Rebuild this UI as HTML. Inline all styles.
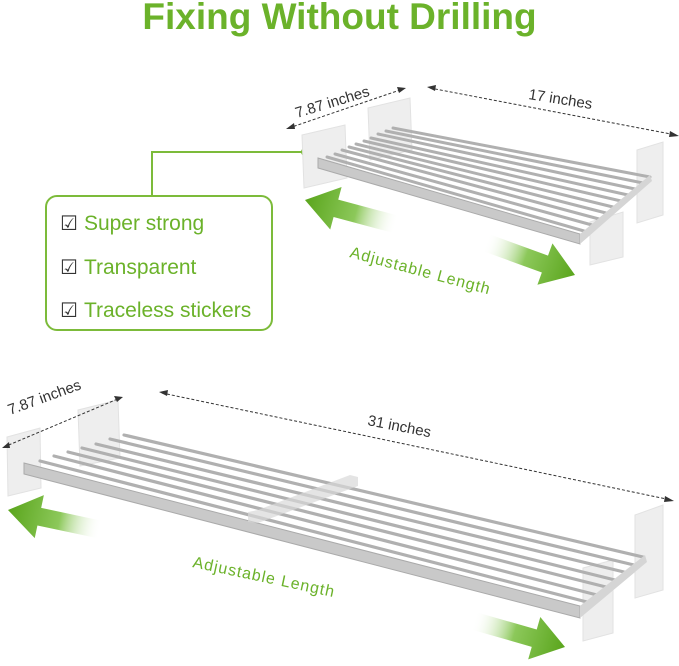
<!DOCTYPE html>
<html><head><meta charset="utf-8"><style>
html,body{margin:0;padding:0;background:#fff;}
body{width:679px;height:666px;overflow:hidden;position:relative;font-family:"Liberation Sans","DejaVu Sans",sans-serif;}
.t{position:absolute;left:0;width:679px;top:-4px;text-align:center;font-weight:bold;font-size:37px;color:#6bb22a;}
.box{position:absolute;left:45px;top:195px;width:228px;height:136px;border:2px solid #7cbb3a;border-radius:12px;box-sizing:border-box;}
.it{position:absolute;left:60px;font-size:21px;color:#6bb22a;}
.it span{font-size:20px;color:#333;margin-right:6px}
</style></head><body>
<div class="t">Fixing Without Drilling</div>
<svg width="679" height="666" style="position:absolute;left:0;top:0">
<defs>
<linearGradient id="g" x1="0" x2="1" y1="0" y2="0"><stop offset="0" stop-color="#5aa51c"/><stop offset="0.55" stop-color="#8cc85a"/><stop offset="1" stop-color="#fff" stop-opacity="0"/></linearGradient>
<g id="arr"><polygon points="0,0 32,-22 32,-9 95,-9 95,9 32,9 32,22" fill="url(#g)"/></g>
</defs>
<polyline points="152,195 152,152 305,152" fill="none" stroke="#7cbb3a" stroke-width="2"/>
<circle cx="305" cy="152" r="4" fill="#7cbb3a"/>
<g fill="#eeeeee" stroke="#e2e2e2">
<polygon points="302,135 345,125 347,178 304,188"/>
<polygon points="368,108 410,98 412,150 370,160"/>
<polygon points="637,150 663,142 663,215 637,223"/>
<polygon points="590,222 623,212 623,257 590,265"/>
</g>
<g stroke="#b0b0b0" stroke-width="3" stroke-linecap="round">
<line x1="393" y1="128" x2="650" y2="177"/><line x1="386" y1="131" x2="643" y2="183"/>
<line x1="378" y1="134" x2="635" y2="189"/><line x1="371" y1="138" x2="628" y2="195"/>
<line x1="364" y1="141" x2="621" y2="201"/><line x1="356" y1="144" x2="613" y2="207"/>
<line x1="349" y1="147" x2="606" y2="213"/><line x1="342" y1="150" x2="599" y2="219"/>
<line x1="335" y1="154" x2="592" y2="225"/><line x1="327" y1="157" x2="584" y2="231"/>
</g>
<polygon points="318,158 580,234 580,244 318,168" fill="#c9c9c9" stroke="#aaa"/>
<polygon points="580,234 650,175 652,181 580,244" fill="#d5d5d5"/>
<g fill="#eeeeee" stroke="#e2e2e2">
<polygon points="7,437 40,428 41,488 8,496"/>
<polygon points="78,410 118,400 120,458 80,466"/>
<polygon points="635,515 663,505 663,590 635,598"/>
<polygon points="583,568 613,560 613,633 583,641"/>
</g>
<g stroke="#b0b0b0" stroke-width="3.2" stroke-linecap="round">
<line x1="124" y1="435" x2="643" y2="557"/><line x1="110" y1="439" x2="634" y2="565"/>
<line x1="96" y1="444" x2="624" y2="572"/><line x1="82" y1="448" x2="615" y2="580"/>
<line x1="68" y1="452" x2="606" y2="587"/><line x1="54" y1="456" x2="597" y2="595"/>
<line x1="40" y1="461" x2="587" y2="602"/>
</g>
<polygon points="24,463 580,606 580,618 24,474" fill="#c9c9c9" stroke="#aaa"/>
<polygon points="580,606 645,555 647,562 580,618" fill="#d5d5d5"/>
<polygon points="248,512 258,510 350,475 358,477 358,486 258,523 248,522" fill="#d8d8d8" opacity="0.7"/>
<g stroke="#333" stroke-width="1" stroke-dasharray="3,2" fill="none">
<line x1="289" y1="128" x2="403" y2="89"/><line x1="430" y1="88" x2="676" y2="135"/>
<line x1="4" y1="447" x2="120" y2="398"/><line x1="162" y1="393" x2="671" y2="500"/>
</g>
<g fill="#333">
<polygon points="286,129 294,123 295,129"/><polygon points="406,88 397,87 399,93"/>
<polygon points="427,87 436,85 435,91"/><polygon points="679,136 670,131 669,137"/>
<polygon points="2,448 9,442 10,448"/><polygon points="123,397 114,396 117,402"/>
<polygon points="159,392 168,390 167,396"/><polygon points="674,501 665,496 664,502"/>
</g>
<g font-family="Liberation Sans, sans-serif" font-size="15" fill="#333">
<text transform="translate(297,118) rotate(-17)">7.87 inches</text>
<text transform="translate(528,99) rotate(9)">17 inches</text>
<text transform="translate(10,415) rotate(-20)">7.87 inches</text>
<text transform="translate(367,425) rotate(11)">31 inches</text>
</g>
<use href="#arr" transform="translate(305,200) rotate(15)"/>
<use href="#arr" transform="translate(575,275) rotate(200)"/>
<use href="#arr" transform="translate(8,510) rotate(12)"/>
<use href="#arr" transform="translate(565,647) rotate(196)"/>
<g font-family="Liberation Sans, sans-serif" font-size="16" fill="#6bb22a" letter-spacing="1">
<text transform="translate(349,257) rotate(15)">Adjustable Length</text>
<text transform="translate(192,567) rotate(12)">Adjustable Length</text>
</g>
</svg>
<div class="box"></div>
<div class="it" style="top:211px"><span>☑</span>Super strong</div>
<div class="it" style="top:255px"><span>☑</span>Transparent</div>
<div class="it" style="top:298px"><span>☑</span>Traceless stickers</div>
</body></html>
